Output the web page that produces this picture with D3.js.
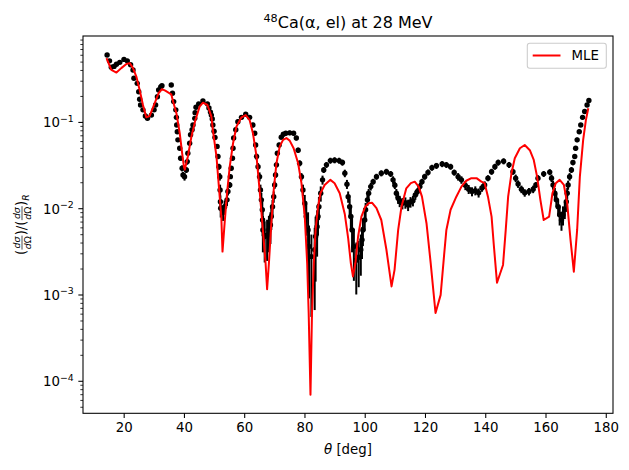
<!DOCTYPE html>
<html>
<head>
<meta charset="utf-8">
<script src="https://cdn.jsdelivr.net/npm/d3@7"></script>
<style>
body { margin: 0; background: #fff; }
svg { font-family: "DejaVu Sans", sans-serif; }
</style>
</head>
<body>
<script>
// measured cross sections: [theta (deg), ratio to Rutherford, relative error]
var measured = [
  [14.5, 0.597, 0.04], [15.3, 0.51, 0.04], [15.9, 0.43, 0.04], [16.8, 0.44, 0.04],
  [17.6, 0.466, 0.04], [18.7, 0.49, 0.04], [20.1, 0.53, 0.04], [21.2, 0.51, 0.04],
  [22.3, 0.46, 0.04], [23.1, 0.40, 0.04], [23.4, 0.32, 0.04], [24.5, 0.28, 0.04],
  [25.0, 0.224, 0.04], [25.3, 0.183, 0.04], [25.6, 0.157, 0.04], [26.4, 0.138, 0.04],
  [27.2, 0.117, 0.04], [27.9, 0.110, 0.04], [29.2, 0.120, 0.04], [30.1, 0.138, 0.04],
  [30.6, 0.157, 0.04], [31.2, 0.196, 0.04], [31.6, 0.235, 0.04], [32.3, 0.255, 0.04],
  [32.7, 0.262, 0.04], [35.8, 0.268, 0.04], [36.2, 0.215, 0.04], [36.6, 0.172, 0.04],
  [37.3, 0.138, 0.04], [37.5, 0.113, 0.05], [37.6, 0.092, 0.05], [37.8, 0.077, 0.05],
  [38.0, 0.062, 0.05], [38.6, 0.0495, 0.05], [38.9, 0.038, 0.06], [39.4, 0.029, 0.08],
  [39.7, 0.0243, 0.08], [40.2, 0.0232, 0.1], [40.8, 0.0278, 0.08], [41.1, 0.0347, 0.08],
  [41.3, 0.0434, 0.06], [41.9, 0.0566, 0.05], [42.2, 0.071, 0.05], [42.7, 0.081, 0.05],
  [43.0, 0.092, 0.05], [43.6, 0.110, 0.05], [43.7, 0.128, 0.05], [44.0, 0.148, 0.05],
  [44.9, 0.162, 0.05], [46.3, 0.175, 0.05], [47.8, 0.162, 0.05], [48.3, 0.145, 0.05],
  [48.8, 0.130, 0.05], [49.1, 0.120, 0.05], [49.4, 0.108, 0.05], [49.6, 0.092, 0.05],
  [50.0, 0.078, 0.05], [50.3, 0.066, 0.05], [51.0, 0.052, 0.06], [51.3, 0.0397, 0.06],
  [51.6, 0.0303, 0.08], [51.9, 0.0232, 0.1], [52.0, 0.0163, 0.15], [52.1, 0.0119, 0.18],
  [52.2, 0.0100, 0.22], [53.0, 0.0089, 0.2], [53.5, 0.0104, 0.18], [54.3, 0.0125, 0.15],
  [54.6, 0.0156, 0.1], [55.2, 0.0186, 0.08], [55.4, 0.0232, 0.06], [55.7, 0.029, 0.06],
  [56.1, 0.038, 0.06], [56.3, 0.0495, 0.06], [56.5, 0.065, 0.06], [57.2, 0.081, 0.06],
  [57.9, 0.1007, 0.06], [59.1, 0.113, 0.06], [60.5, 0.123, 0.06], [61.8, 0.113, 0.06],
  [62.9, 0.092, 0.06], [63.5, 0.074, 0.06], [63.8, 0.054, 0.06], [64.1, 0.0397, 0.08],
  [64.6, 0.0303, 0.1], [65.1, 0.0232, 0.12], [65.4, 0.0163, 0.15], [65.7, 0.0125, 0.2],
  [66.0, 0.0096, 0.3], [66.1, 0.0073, 0.35], [66.2, 0.0056, 0.45], [66.8, 0.0047, 0.5],
  [67.6, 0.0049, 0.5], [68.2, 0.0056, 0.45], [68.7, 0.0064, 0.4], [69.0, 0.008, 0.3],
  [69.4, 0.0104, 0.2], [69.8, 0.0136, 0.15], [70.1, 0.0186, 0.1], [70.4, 0.0243, 0.08],
  [70.7, 0.0318, 0.07], [71.0, 0.0434, 0.06], [71.6, 0.054, 0.06], [72.3, 0.0666, 0.06],
  [73.0, 0.072, 0.06], [73.8, 0.074, 0.06], [75.1, 0.0747, 0.06], [76.4, 0.074, 0.06],
  [77.3, 0.065, 0.06], [77.9, 0.047, 0.07], [78.4, 0.0332, 0.08], [79.0, 0.0232, 0.1],
  [79.5, 0.0163, 0.15], [80.1, 0.0114, 0.25], [80.6, 0.008, 0.4], [81.2, 0.0056, 0.6],
  [81.5, 0.0036, 0.75], [82.3, 0.00275, 0.8], [83.4, 0.0033, 0.8], [83.7, 0.0047, 0.7],
  [84.2, 0.0061, 0.55], [84.5, 0.008, 0.4], [84.8, 0.0104, 0.3], [85.4, 0.0149, 0.2],
  [86.0, 0.0213, 0.12], [86.4, 0.0278, 0.08], [87.3, 0.0318, 0.08], [88.6, 0.0356, 0.08],
  [90.0, 0.036, 0.08], [91.5, 0.0356, 0.08], [92.6, 0.0338, 0.08], [93.4, 0.0254, 0.1],
  [94.1, 0.0190, 0.12], [94.5, 0.0136, 0.15], [95.0, 0.0104, 0.25], [95.4, 0.008, 0.3],
  [95.8, 0.0056, 0.45], [96.4, 0.0036, 0.6], [97.2, 0.0025, 0.6], [98.0, 0.0027, 0.55],
  [98.7, 0.0033, 0.5], [99.1, 0.0043, 0.4], [99.4, 0.0056, 0.35], [100.0, 0.0073, 0.25],
  [100.3, 0.0096, 0.2], [100.9, 0.0125, 0.15], [101.3, 0.0149, 0.12], [102.0, 0.0178, 0.1],
  [102.8, 0.0203, 0.08], [103.9, 0.0232, 0.08], [105.5, 0.0254, 0.08], [107.2, 0.0265, 0.08],
  [108.6, 0.025, 0.08], [109.4, 0.0213, 0.1], [110.0, 0.0185, 0.1], [110.5, 0.0149, 0.12],
  [111.1, 0.013, 0.14], [111.6, 0.0121, 0.15], [112.5, 0.0114, 0.15], [113.5, 0.0116, 0.15],
  [114.4, 0.0109, 0.15], [115.2, 0.0118, 0.14], [116.0, 0.0122, 0.14], [116.8, 0.0142, 0.12],
  [117.5, 0.0156, 0.1], [118.3, 0.0178, 0.1], [119.0, 0.0203, 0.08], [119.9, 0.0232, 0.08],
  [121.0, 0.026, 0.08], [122.3, 0.0295, 0.08], [123.8, 0.031, 0.08], [125.7, 0.0325, 0.08],
  [127.1, 0.0318, 0.08], [128.5, 0.0303, 0.08], [129.7, 0.0259, 0.08], [131.0, 0.0232, 0.1],
  [132.1, 0.0213, 0.1], [133.4, 0.0184, 0.12], [134.5, 0.0166, 0.12], [135.6, 0.0156, 0.12],
  [136.7, 0.016, 0.12], [137.8, 0.0151, 0.12], [138.9, 0.0172, 0.1], [139.8, 0.0186, 0.1],
  [140.9, 0.0223, 0.08], [142.1, 0.0265, 0.08], [143.2, 0.0303, 0.08], [144.3, 0.0338, 0.08],
  [146.1, 0.0350, 0.08], [147.9, 0.0318, 0.08], [149.2, 0.0265, 0.08], [150.1, 0.0223, 0.1],
  [150.9, 0.0191, 0.1], [152.0, 0.0166, 0.1], [153.1, 0.0151, 0.1], [154.5, 0.0156, 0.1],
  [155.9, 0.0166, 0.1], [156.8, 0.0186, 0.08], [157.5, 0.0223, 0.08], [159.4, 0.025, 0.08],
  [161.4, 0.0262, 0.08], [162.0, 0.0223, 0.1], [162.5, 0.0186, 0.12], [163.1, 0.0149, 0.15],
  [163.6, 0.0125, 0.18], [164.2, 0.0104, 0.22], [164.7, 0.0084, 0.25], [165.3, 0.0073, 0.25],
  [165.8, 0.0084, 0.25], [166.4, 0.0096, 0.22], [166.9, 0.0119, 0.18], [167.2, 0.0149, 0.15],
  [167.5, 0.0186, 0.12], [168.0, 0.0232, 0.1], [168.6, 0.0278, 0.08], [169.1, 0.0338, 0.07],
  [169.7, 0.0397, 0.06], [170.0, 0.0495, 0.06], [170.5, 0.062, 0.06], [171.2, 0.077, 0.06],
  [171.7, 0.092, 0.05], [172.3, 0.113, 0.05], [173.0, 0.132, 0.05], [173.8, 0.157, 0.05],
  [174.4, 0.177, 0.05]
];

// MLE model curve: [theta (deg), ratio to Rutherford]
var mle = [
  [14.3, 0.547], [15.9, 0.40], [17.6, 0.373], [19.2, 0.42], [20.9, 0.47], [22.0, 0.48],
  [23.1, 0.42], [24.2, 0.335], [25.3, 0.235], [26.4, 0.157], [27.5, 0.113], [28.6, 0.117],
  [30.3, 0.165], [31.6, 0.215], [32.7, 0.24], [33.8, 0.23], [35.8, 0.209], [36.4, 0.172],
  [37.5, 0.126], [38.6, 0.074], [39.4, 0.0434], [40.0, 0.0303], [40.3, 0.028], [41.3, 0.0397],
  [42.5, 0.068], [43.8, 0.105], [45.2, 0.15], [46.3, 0.167], [47.8, 0.157], [49.1, 0.116],
  [49.6, 0.081], [50.8, 0.0397], [51.6, 0.0178], [52.4, 0.008], [52.8, 0.00314], [53.5, 0.0067],
  [54.3, 0.0149], [55.2, 0.0303], [56.3, 0.0566], [57.4, 0.088], [59.1, 0.113], [60.5, 0.12],
  [61.8, 0.105], [62.9, 0.074], [64.1, 0.0397], [65.1, 0.0163], [66.2, 0.0056], [67.1, 0.0023],
  [67.6, 0.00115], [68.2, 0.0023], [69.0, 0.0067], [69.8, 0.0163], [70.7, 0.0332], [71.8, 0.052],
  [72.9, 0.062], [74.0, 0.065], [75.1, 0.0607], [76.4, 0.0495], [77.9, 0.0332], [79.0, 0.0195],
  [80.1, 0.008], [80.9, 0.0023], [81.4, 0.00061], [82.0, 0.000069], [82.5, 0.00061], [83.1, 0.0023],
  [83.7, 0.0056], [84.5, 0.0104], [85.3, 0.0149], [86.7, 0.0186], [88.6, 0.0213], [90.0, 0.0195],
  [91.7, 0.0149], [93.4, 0.0085], [94.5, 0.0045], [95.4, 0.0023], [96.1, 0.00162], [96.9, 0.0023],
  [97.8, 0.0047], [98.9, 0.008], [100.2, 0.0104], [101.3, 0.0114], [102.4, 0.0116], [103.9, 0.010],
  [105.5, 0.0073], [107.2, 0.0033], [108.9, 0.00124], [109.9, 0.00193], [111.1, 0.0056], [112.2, 0.0104],
  [113.8, 0.017], [115.3, 0.0195], [116.6, 0.0203], [117.9, 0.0178], [119.0, 0.0136], [120.5, 0.0067],
  [121.9, 0.0023], [123.5, 0.00061], [125.2, 0.00099], [126.3, 0.00275], [127.1, 0.0056], [128.5, 0.0096],
  [130.4, 0.0136], [132.1, 0.0178], [133.7, 0.0208], [135.4, 0.0223], [137.1, 0.0223], [138.7, 0.0203],
  [139.8, 0.0195], [140.9, 0.0136], [142.1, 0.008], [142.8, 0.0039], [143.9, 0.00137], [145.9, 0.0022],
  [146.8, 0.0056], [147.6, 0.0136], [148.7, 0.0254], [149.8, 0.038], [151.5, 0.0495], [153.1, 0.054],
  [154.8, 0.047], [156.1, 0.0362], [157.2, 0.0232], [158.3, 0.0125], [159.4, 0.0073], [161.2, 0.008],
  [162.3, 0.0149], [163.4, 0.0195], [164.7, 0.0213], [166.1, 0.0186], [167.2, 0.0114], [168.3, 0.0043],
  [169.4, 0.00184], [170.5, 0.0056], [171.4, 0.0232], [172.5, 0.062], [173.4, 0.105], [174.2, 0.144]
];

var xTicks = [20, 40, 60, 80, 100, 120, 140, 160, 180];
var yTicks = [1e-4, 1e-3, 1e-2, 1e-1];
var yTickExp = ["\u22124", "\u22123", "\u22122", "\u22121"];
var xLimits = [6.5, 182.4];
var yLimits = [4.2e-5, 0.99];

var W = 629, H = 470;
var plotL = 83, plotR = 613, plotT = 36, plotB = 413.3;
var font = "DejaVu Sans";
var pt = 4 / 3; // matplotlib points to pixels

var svg = d3.select("body").append("svg")
    .attr("width", W)
    .attr("height", H);

var x = d3.scaleLinear().domain(xLimits).range([plotL, plotR]);
var y = d3.scaleLog().domain(yLimits).range([plotB, plotT]);

// x axis
var gx = svg.append("g")
    .attr("transform", "translate(0," + plotB + ")")
    .call(d3.axisBottom(x).tickValues(xTicks).tickSize(3.5 * pt).tickPadding(3.5 * pt)
      .tickSizeOuter(0).tickFormat(d3.format("d")));
gx.attr("font-size", 13.33).attr("font-family", font);
gx.select(".domain").remove();
gx.selectAll("line").attr("stroke", "#000").attr("stroke-width", 0.8 * pt);
gx.selectAll("text").attr("fill", "#000");

// y axis: minor ticks
var minor = y.ticks().filter(function(d) { return yTicks.indexOf(d) < 0; });
var gyMinor = svg.append("g")
    .attr("transform", "translate(" + plotL + ",0)")
    .call(d3.axisLeft(y).tickValues(minor).tickSize(2 * pt).tickSizeOuter(0).tickFormat(""));
gyMinor.select(".domain").remove();
gyMinor.selectAll("line").attr("stroke", "#000").attr("stroke-width", 0.6 * pt);

// y axis: major ticks with 10^n labels
var gy = svg.append("g")
    .attr("transform", "translate(" + plotL + ",0)")
    .call(d3.axisLeft(y).tickValues(yTicks).tickSize(3.5 * pt).tickSizeOuter(0).tickFormat(""));
gy.select(".domain").remove();
gy.selectAll("line").attr("stroke", "#000").attr("stroke-width", 0.8 * pt);

var yl = svg.append("g").attr("font-family", font).attr("fill", "#000");
yTicks.forEach(function(t, i) {
  var tx = yl.append("text")
      .attr("x", plotL - 7 * pt)
      .attr("y", y(t) + 5.5)
      .attr("text-anchor", "end")
      .attr("font-size", 13.33);
  tx.append("tspan").text("10");
  tx.append("tspan").attr("font-size", 9.33).attr("dy", -5.5).text(yTickExp[i]);
});

// error bars and points
var pts = svg.append("g");
pts.selectAll("line")
    .data(measured)
    .enter().append("line")
    .attr("x1", function(d) { return x(d[0]); })
    .attr("x2", function(d) { return x(d[0]); })
    .attr("y1", function(d) { return y(d[1] * (1 - d[2])); })
    .attr("y2", function(d) { return y(d[1] * (1 + d[2])); })
    .attr("stroke", "#000")
    .attr("stroke-width", 1.5 * pt);
pts.selectAll("circle")
    .data(measured)
    .enter().append("circle")
    .attr("cx", function(d) { return x(d[0]); })
    .attr("cy", function(d) { return y(d[1]); })
    .attr("r", 2.7)
    .attr("fill", "#000");

// model curve
var line = d3.line()
    .x(function(d) { return x(d[0]); })
    .y(function(d) { return y(d[1]); });
svg.append("path")
    .datum(mle)
    .attr("d", line)
    .attr("fill", "none")
    .attr("stroke", "#ff0000")
    .attr("stroke-width", 1.5 * pt)
    .attr("stroke-linejoin", "round");

// frame
svg.append("rect")
    .attr("x", plotL).attr("y", plotT)
    .attr("width", plotR - plotL).attr("height", plotB - plotT)
    .attr("fill", "none")
    .attr("stroke", "#000")
    .attr("stroke-width", 0.8 * pt);

// title
var title = svg.append("text")
    .attr("x", (plotL + plotR) / 2)
    .attr("y", 28)
    .attr("text-anchor", "middle")
    .attr("font-family", font)
    .attr("font-size", 16);
title.append("tspan").attr("font-size", 11.2).attr("dy", -6).text("48");
title.append("tspan").attr("dy", 6).text("Ca(\u03b1, el) at 28 MeV");

// x label
var xlab = svg.append("text")
    .attr("x", (plotL + plotR) / 2)
    .attr("y", 454)
    .attr("text-anchor", "middle")
    .attr("font-family", font)
    .attr("font-size", 13.33);
xlab.append("tspan").attr("font-style", "italic").text("\u03b8");
xlab.append("tspan").text(" [deg]");

// y label: (dσ/dΩ)/(dσ/dΩ)_R, laid out along the rotated baseline
var ylab = svg.append("g").attr("font-family", font).attr("fill", "#000");
var cursor = 0;
function addText(str, size, dy, italic) {
  var t = ylab.append("text")
      .attr("x", cursor).attr("y", dy)
      .attr("font-size", size)
      .attr("font-style", italic ? "italic" : "normal")
      .text(str);
  var w = t.node().getComputedTextLength();
  cursor += w;
  return w;
}
function addFrac(num, den) {
  var start = cursor;
  var a = ylab.append("text").attr("y", -6.3).attr("font-size", 9.33);
  a.append("tspan").attr("font-style", "italic").text(num[0]);
  a.append("tspan").attr("font-style", "italic").text(num[1]);
  var b = ylab.append("text").attr("y", 4.8).attr("font-size", 9.33);
  b.append("tspan").attr("font-style", "italic").text(den[0]);
  b.append("tspan").text(den[1]);
  var wa = a.node().getComputedTextLength(), wb = b.node().getComputedTextLength();
  var w = Math.max(wa, wb) + 1.5;
  a.attr("x", start + (w - wa) / 2);
  b.attr("x", start + (w - wb) / 2);
  ylab.append("line")
      .attr("x1", start + 0.3).attr("x2", start + w - 0.3)
      .attr("y1", -4.3).attr("y2", -4.3)
      .attr("stroke", "#000").attr("stroke-width", 0.7);
  cursor += w;
}
addText("(", 13.33, 0, false);
addFrac(["d", "\u03c3"], ["d", "\u03a9"]);
addText(")/(", 13.33, 0, false);
addFrac(["d", "\u03c3"], ["d", "\u03a9"]);
addText(")", 13.33, 0, false);
addText("R", 9.33, 3, true);
ylab.attr("transform", "translate(26.3," + ((plotT + plotB) / 2 + cursor / 2) + ") rotate(-90)");

// legend
var lg = svg.append("g").attr("font-family", font);
lg.append("rect")
    .attr("x", 527.3).attr("y", 43.3)
    .attr("width", 79).attr("height", 25)
    .attr("rx", 2.5)
    .attr("fill", "#fff").attr("fill-opacity", 0.8)
    .attr("stroke", "#cccccc").attr("stroke-width", 0.8 * pt);
lg.append("line")
    .attr("x1", 532.7).attr("x2", 560.5)
    .attr("y1", 55.5).attr("y2", 55.5)
    .attr("stroke", "#ff0000").attr("stroke-width", 1.5 * pt);
lg.append("text")
    .attr("x", 571.5).attr("y", 60.3)
    .attr("font-size", 13.33)
    .attr("fill", "#000")
    .text("MLE");
</script>
</body>
</html>
